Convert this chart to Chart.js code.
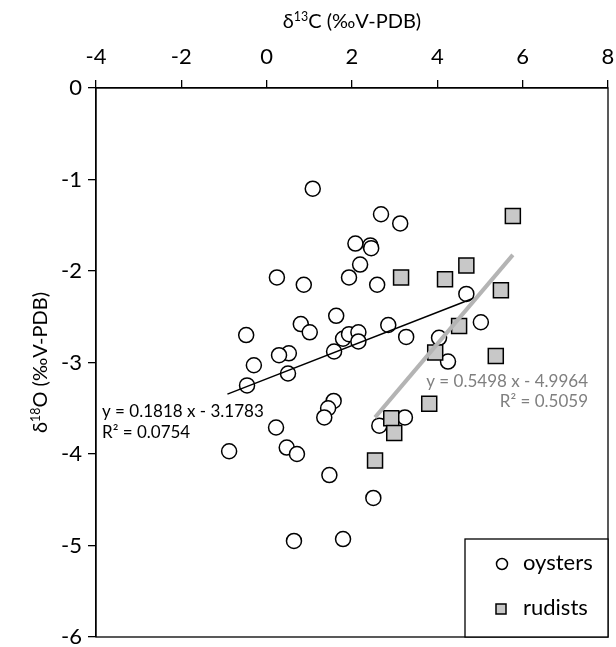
<!DOCTYPE html>
<html>
<head>
<meta charset="utf-8">
<script src="https://cdn.jsdelivr.net/npm/chart.js@4.4.1/dist/chart.umd.min.js"></script>
<style>
  html, body { margin: 0; padding: 0; background: #fff; }
  #wrap { width: 616px; height: 647px; }
</style>
</head>
<body>
<div id="wrap"><canvas id="isoChart" width="616" height="647"></canvas></div>
<script>
// oysters: d13C, d18O
const oysterC = [1.08, 2.68, 3.13, 2.08, 2.43, 2.45, 2.19, 0.24, 1.93, 0.87, 2.59, 4.68, 1.63, 0.80, 1.01,
    2.85, 1.79, 1.93, 2.15, 2.15, -0.48, 3.27, -0.30, 0.52, 0.29, 0.50, 1.58, -0.46, 5.02, 4.04,
    4.25, 3.24, 2.64, 1.57, 1.44, 1.35, 0.22, -0.88, 0.47, 0.71, 1.47, 2.50, 0.64, 1.79];
const oysterO = [-1.10, -1.38, -1.48, -1.70, -1.72, -1.75, -1.93, -2.07, -2.07, -2.15, -2.15, -2.25, -2.49, -2.58, -2.67,
    -2.59, -2.74, -2.69, -2.67, -2.77, -2.70, -2.72, -3.03, -2.90, -2.92, -3.12, -2.88, -3.25, -2.56, -2.73,
    -2.99, -3.60, -3.69, -3.42, -3.50, -3.60, -3.71, -3.97, -3.93, -4.00, -4.23, -4.48, -4.95, -4.93];

// rudists
const rudistC = [5.77, 4.68, 3.15, 4.18, 5.49, 4.51, 3.95, 5.37, 3.81, 2.92, 2.99, 2.54];
const rudistO = [-1.40, -1.94, -2.07, -2.09, -2.21, -2.60, -2.89, -2.93, -3.45, -3.61, -3.77, -4.07];

// linear trendlines (Excel), with the x span each one is drawn over
const oysterFit = { slope: 0.1818, icpt: -3.1783, r2: 0.0754 };
const rudistFit = { slope: 0.5498, icpt: -4.9964, r2: 0.5059 };
const oysterFitSpan = [-0.92, 4.86];
const rudistFitSpan = [2.54, 5.77];

const xTicks = [-4, -2, 0, 2, 4, 6, 8];
const yTicks = [0, -1, -2, -3, -4, -5, -6];

const FONT = 'Lato, "Open Sans", sans-serif';

function toPoints(xs, ys) {
    return xs.map((x, i) => ({ x: x, y: ys[i] }));
}

function fitLine(span, fit) {
    return span.map(x => ({ x: x, y: fit.slope * x + fit.icpt }));
}

// no extra label overhang, the plot box is fixed by layout.padding
function noOverhang(s) {
    s.paddingLeft = s.paddingRight = s.paddingTop = s.paddingBottom = 0;
}

// titles, frame, legend and trendline labels
const extrasPlugin = {
    id: 'extras',
    afterDraw(chart) {
        const ctx = chart.ctx;
        const a = chart.chartArea;
        ctx.save();

        // frame
        ctx.strokeStyle = '#000';
        ctx.lineWidth = 1.3;
        ctx.strokeRect(a.left, a.top, a.right - a.left, a.bottom - a.top);

        // axis titles with superscripts
        function supText(parts, x, y, size) {
            let total = 0;
            parts.forEach(p => {
                ctx.font = (p[1] ? size * 0.62 : size) + 'px ' + FONT;
                total += ctx.measureText(p[0]).width;
            });
            let cx = x - total / 2;
            ctx.textAlign = 'left';
            ctx.textBaseline = 'alphabetic';
            parts.forEach(p => {
                ctx.font = (p[1] ? size * 0.62 : size) + 'px ' + FONT;
                ctx.fillText(p[0], cx, p[1] ? y - size * 0.36 : y);
                cx += ctx.measureText(p[0]).width;
            });
        }
        ctx.fillStyle = '#000';
        supText([['δ', false], ['13', true], ['C (‰V-PDB)', false]], (a.left + a.right) / 2, 28, 20);

        ctx.save();
        ctx.translate(47, (a.top + a.bottom) / 2);
        ctx.rotate(-Math.PI / 2);
        supText([['δ', false], ['18', true], ['O (‰V-PDB)', false]], 0, 0, 20);
        ctx.restore();

        // trendline equations
        ctx.font = '17px ' + FONT;
        ctx.textBaseline = 'middle';
        ctx.fillStyle = '#000';
        ctx.textAlign = 'left';
        ctx.fillText('y = ' + oysterFit.slope + ' x - ' + Math.abs(oysterFit.icpt), a.left + 6, 412);
        ctx.fillText('R² = ' + oysterFit.r2, a.left + 6, 433);
        ctx.fillStyle = '#7f7f7f';
        ctx.textAlign = 'right';
        ctx.fillText('y = ' + rudistFit.slope + ' x - ' + Math.abs(rudistFit.icpt), 588, 382);
        ctx.fillText('R² = ' + rudistFit.r2, 588, 402);

        // legend box
        const lx = 465, ly = 539, lw = a.right - lx, lh = a.bottom - ly;
        ctx.fillStyle = '#fff';
        ctx.fillRect(lx, ly, lw, lh);
        ctx.strokeStyle = '#000';
        ctx.lineWidth = 1.3;
        ctx.strokeRect(lx, ly, lw, lh);

        const items = [chart.data.datasets[0], chart.data.datasets[1]];
        items.forEach((ds, i) => {
            const yy = ly + 25 + i * 45;
            ctx.fillStyle = ds.backgroundColor;
            ctx.strokeStyle = ds.borderColor;
            ctx.lineWidth = 1.5;
            ctx.beginPath();
            if (ds.pointStyle === 'rect') {
                ctx.rect(lx + 31, yy - 5, 10, 10);
            } else {
                ctx.arc(lx + 37, yy, 5.5, 0, Math.PI * 2);
            }
            ctx.fill();
            ctx.stroke();
            ctx.fillStyle = '#000';
            ctx.font = '22px ' + FONT;
            ctx.textAlign = 'left';
            ctx.textBaseline = 'middle';
            ctx.fillText(ds.label, lx + 58, yy - 1);
        });

        ctx.restore();
    }
};

new Chart(document.getElementById('isoChart').getContext('2d'), {
    type: 'scatter',
    data: {
        datasets: [
            {
                label: 'oysters',
                data: toPoints(oysterC, oysterO),
                pointStyle: 'circle',
                pointRadius: 7.5,
                backgroundColor: '#ffffff',
                borderColor: '#000000',
                borderWidth: 1.5,
                order: 3
            },
            {
                label: 'rudists',
                data: toPoints(rudistC, rudistO),
                pointStyle: 'rect',
                pointRadius: 10.6,
                backgroundColor: '#c8c8c8',
                borderColor: '#000000',
                borderWidth: 1.5,
                order: 2
            },
            {
                label: 'oyster fit',
                type: 'line',
                data: fitLine(oysterFitSpan, oysterFit),
                borderColor: '#000000',
                borderWidth: 1.5,
                pointRadius: 0,
                fill: false,
                order: 1
            },
            {
                label: 'rudist fit',
                type: 'line',
                data: fitLine(rudistFitSpan, rudistFit),
                borderColor: '#b4b4b4',
                borderWidth: 4,
                pointRadius: 0,
                fill: false,
                order: 0
            }
        ]
    },
    options: {
        responsive: false,
        animation: false,
        layout: { autoPadding: false, padding: { left: 0, right: 8, top: 0, bottom: 10 } },
        plugins: {
            legend: { display: false },
            tooltip: { enabled: false }
        },
        scales: {
            x: {
                type: 'linear',
                position: 'top',
                min: -4,
                max: 8,
                afterBuildTicks: s => { s.ticks = xTicks.map(v => ({ value: v })); },
                afterFit: s => { s.height = 88; noOverhang(s); },
                grid: { drawOnChartArea: false, drawTicks: true, tickLength: 8, color: '#000', lineWidth: 1.3 },
                border: { display: true, color: '#000', width: 1.3 },
                ticks: { color: '#000', font: { family: FONT, size: 22 }, padding: 10, maxRotation: 0 }
            },
            y: {
                type: 'linear',
                min: -6,
                max: 0,
                afterBuildTicks: s => { s.ticks = yTicks.map(v => ({ value: v })); },
                afterFit: s => { s.width = 96; noOverhang(s); },
                grid: { drawOnChartArea: false, drawTicks: true, tickLength: 8, color: '#000', lineWidth: 1.3 },
                border: { display: true, color: '#000', width: 1.3 },
                ticks: { color: '#000', font: { family: FONT, size: 22 }, padding: 6 }
            }
        }
    },
    plugins: [extrasPlugin]
});
</script>
</body>
</html>
